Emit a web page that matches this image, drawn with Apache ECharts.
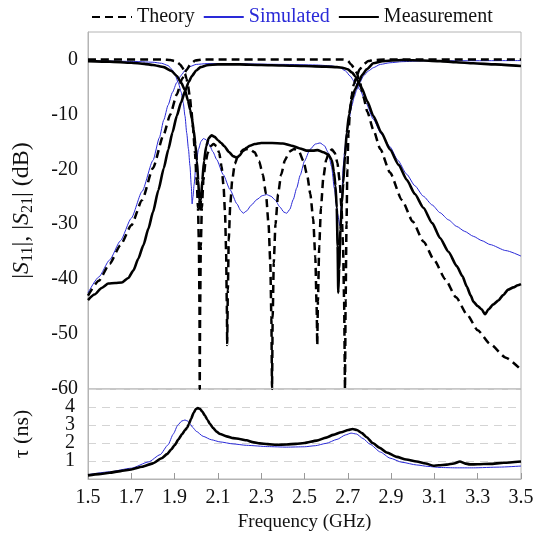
<!DOCTYPE html>
<html>
<head>
<meta charset="utf-8">
<script src="https://cdn.jsdelivr.net/npm/echarts@6/dist/echarts.min.js"></script>
<style>
  html, body { margin: 0; padding: 0; background: #fff; }
  #chart { width: 543px; height: 540px; }
</style>
</head>
<body>
<div id="chart"></div>
<script>
// frequency ticks (GHz)
var xTicks = [1.5, 1.7, 1.9, 2.1, 2.3, 2.5, 2.7, 2.9, 3.1, 3.3, 3.5];

// |S11| theory (dB)
var theoryS11 = [[1.5,0],[1.8,0],[1.85,-0.03],[1.88,-0.1],[1.9,-0.3],[1.915,-0.6],[1.925,-0.9],[1.935,-1.4],[1.942,-1.9],[1.948,-2.6],[1.955,-3.5],[1.962,-4.8],[1.971,-7.0],[1.978,-9.5],[1.985,-12.5],[1.994,-17],[2.002,-22],[2.008,-27],[2.012,-33],[2.015,-45],[2.016,-60],[2.018,-45],[2.021,-34],[2.026,-27],[2.033,-22],[2.042,-19],[2.053,-17],[2.066,-15.8],[2.08,-15.4],[2.094,-15.8],[2.106,-17],[2.117,-19.5],[2.126,-23],[2.133,-28],[2.138,-35],[2.141,-44],[2.143,-52],[2.146,-42],[2.15,-33],[2.157,-26.5],[2.166,-22],[2.178,-19],[2.195,-17.3],[2.218,-16.4],[2.245,-16.3],[2.27,-16.9],[2.29,-18.5],[2.308,-21],[2.322,-24.5],[2.334,-30],[2.342,-37],[2.347,-47],[2.35,-60],[2.353,-47],[2.358,-37],[2.366,-30],[2.378,-24.5],[2.392,-21],[2.41,-18.3],[2.43,-16.8],[2.452,-16.3],[2.475,-16.8],[2.495,-18.5],[2.512,-21],[2.527,-24.5],[2.54,-29],[2.55,-36],[2.556,-45],[2.559,-52],[2.562,-44],[2.568,-34],[2.576,-27],[2.587,-21.5],[2.6,-18.3],[2.614,-16.8],[2.627,-16.4],[2.64,-17],[2.652,-18.8],[2.662,-22],[2.671,-27],[2.678,-34],[2.683,-44],[2.687,-60],[2.69,-44],[2.694,-30],[2.698,-20],[2.703,-13.5],[2.71,-9.5],[2.718,-6.5],[2.728,-4.5],[2.741,-3.0],[2.755,-1.8],[2.772,-0.9],[2.795,-0.3],[2.82,-0.1],[2.87,0],[3.5,0]];
// |S21| theory (dB)
var theoryS21 = [[1.5,-43],[1.55,-40.3],[1.6,-37.2],[1.65,-33.8],[1.7,-30.2],[1.75,-25.6],[1.8,-19.8],[1.85,-13.6],[1.88,-10],[1.91,-6.4],[1.935,-3.5],[1.955,-1.9],[1.975,-0.8],[1.995,-0.2],[2.03,-0.02],[2.68,-0.02],[2.7,-0.25],[2.715,-0.9],[2.728,-1.5],[2.741,-2.4],[2.756,-4.2],[2.772,-6.8],[2.79,-9.5],[2.818,-12.8],[2.85,-16.3],[2.895,-20.6],[2.95,-25.6],[3.0,-29.5],[3.05,-33.2],[3.1,-36.6],[3.15,-40],[3.2,-43.3],[3.25,-46.4],[3.3,-49.3],[3.357,-51.8],[3.43,-54.3],[3.5,-56.5]];

// simulated
var simS11 = [[1.5,-0.3],[1.6,-0.3],[1.7,-0.35],[1.8,-0.5],[1.84,-0.7],[1.87,-1.1],[1.887,-1.8],[1.9,-2.6],[1.917,-4.2],[1.93,-5.9],[1.94,-7.9],[1.948,-10.3],[1.956,-13.4],[1.964,-16.3],[1.971,-19.4],[1.977,-23],[1.981,-26.3],[1.985,-25],[1.99,-22.8],[1.998,-19.5],[2.01,-16.4],[2.022,-14.9],[2.033,-14.4],[2.045,-14.6],[2.06,-15.5],[2.077,-16.8],[2.094,-18.2],[2.125,-21],[2.156,-23.7],[2.188,-26.3],[2.205,-27.5],[2.217,-28],[2.232,-27.6],[2.255,-26.5],[2.28,-25.5],[2.305,-24.8],[2.325,-24.6],[2.345,-24.9],[2.365,-25.6],[2.385,-26.8],[2.405,-27.8],[2.418,-28],[2.432,-27.3],[2.448,-25.5],[2.464,-23.4],[2.48,-21.1],[2.5,-18.5],[2.525,-16.4],[2.55,-15.4],[2.572,-15.2],[2.592,-15.7],[2.61,-17],[2.625,-19.5],[2.638,-23.5],[2.652,-28],[2.664,-30.3],[2.672,-25],[2.679,-19.4],[2.687,-16],[2.695,-13.4],[2.706,-10.8],[2.718,-8.5],[2.73,-6.8],[2.741,-5.5],[2.756,-4.2],[2.772,-3],[2.795,-2.1],[2.818,-1.5],[2.85,-0.9],[2.895,-0.6],[2.95,-0.4],[3.05,-0.25],[3.5,-0.2]];
var simS21 = [[1.5,-42.5],[1.55,-39.6],[1.6,-36.5],[1.65,-33],[1.7,-28.9],[1.75,-24],[1.8,-18.4],[1.83,-14.2],[1.85,-11],[1.87,-8.3],[1.89,-6],[1.91,-4.2],[1.93,-2.9],[1.95,-1.9],[1.97,-1.3],[2.0,-0.9],[2.05,-0.75],[2.2,-0.8],[2.4,-0.9],[2.55,-1.0],[2.62,-1.15],[2.66,-1.4],[2.69,-2.1],[2.71,-3],[2.735,-4.3],[2.756,-5.5],[2.785,-8],[2.818,-10.9],[2.855,-13.6],[2.895,-15.9],[2.93,-18.3],[2.972,-20.9],[3.01,-23],[3.049,-24.9],[3.09,-26.5],[3.126,-27.9],[3.165,-29.2],[3.203,-30.4],[3.24,-31.3],[3.28,-32.2],[3.32,-33],[3.357,-33.7],[3.43,-34.8],[3.5,-35.8]];

// measured
var measS11 = [[1.5,-0.3],[1.6,-0.4],[1.7,-0.6],[1.76,-0.8],[1.8,-1.0],[1.85,-1.4],[1.886,-2.1],[1.91,-3.0],[1.93,-4.2],[1.948,-5.6],[1.962,-7.5],[1.972,-9.2],[1.98,-10.8],[1.988,-12.8],[1.996,-15.5],[2.003,-18.5],[2.009,-22],[2.014,-25.5],[2.018,-27.3],[2.022,-25.5],[2.028,-22],[2.036,-18.5],[2.046,-15.8],[2.058,-14.3],[2.071,-13.8],[2.085,-14.1],[2.1,-14.7],[2.115,-15.2],[2.13,-15.8],[2.15,-16.8],[2.17,-17.6],[2.187,-17.9],[2.2,-17.5],[2.215,-16.7],[2.232,-16.1],[2.248,-15.7],[2.27,-15.4],[2.3,-15.2],[2.35,-15.2],[2.4,-15.3],[2.44,-15.7],[2.479,-16.2],[2.51,-16.6],[2.54,-16.6],[2.56,-16.5],[2.587,-16.9],[2.61,-17.3],[2.626,-18.3],[2.636,-20.5],[2.643,-23],[2.649,-27],[2.653,-34],[2.656,-42.5],[2.66,-38],[2.666,-31],[2.673,-26],[2.679,-22.5],[2.687,-17.5],[2.695,-13.4],[2.706,-10],[2.718,-7.3],[2.733,-5.5],[2.749,-4.2],[2.767,-2.8],[2.787,-1.8],[2.818,-0.7],[2.86,-0.3],[2.95,-0.1],[3.05,-0.2],[3.126,-0.3],[3.2,-0.5],[3.28,-0.7],[3.38,-0.9],[3.5,-1.2]];
var measS21 = [[1.5,-43.8],[1.53,-42.8],[1.563,-41.6],[1.594,-40.8],[1.625,-40.7],[1.656,-40.6],[1.686,-39.8],[1.71,-38.4],[1.732,-36.3],[1.756,-33.8],[1.779,-30.8],[1.8,-27.8],[1.825,-23.8],[1.85,-19.8],[1.871,-16.4],[1.89,-13.3],[1.91,-10.3],[1.93,-7.8],[1.948,-5.8],[1.965,-4.1],[1.98,-3.0],[2.0,-2.0],[2.02,-1.4],[2.05,-1.05],[2.1,-0.9],[2.2,-0.9],[2.3,-1.0],[2.4,-1.1],[2.5,-1.2],[2.6,-1.3],[2.65,-1.4],[2.68,-1.55],[2.7,-1.8],[2.72,-2.4],[2.735,-3.1],[2.749,-4.1],[2.764,-5.2],[2.79,-7.6],[2.818,-10.3],[2.855,-13.3],[2.895,-16.4],[2.935,-19.2],[2.972,-21.9],[3.01,-24.5],[3.049,-27],[3.09,-29.8],[3.126,-32.5],[3.165,-35],[3.203,-37.6],[3.23,-39.5],[3.249,-41.3],[3.268,-43],[3.28,-44.1],[3.3,-44.9],[3.318,-45.5],[3.334,-46.4],[3.35,-45.5],[3.372,-44.6],[3.395,-43.9],[3.418,-42.9],[3.441,-41.9],[3.465,-41.5],[3.485,-41.1],[3.5,-40.9]];

// group delay (ns)
var simTau = [[1.5,0.24],[1.6,0.4],[1.7,0.6],[1.78,0.95],[1.833,1.35],[1.87,1.9],[1.894,2.5],[1.915,3.0],[1.933,3.22],[1.948,3.28],[1.96,3.22],[1.972,3.05],[1.985,2.85],[2.0,2.65],[2.032,2.37],[2.07,2.18],[2.11,2.06],[2.17,1.95],[2.233,1.87],[2.33,1.8],[2.418,1.77],[2.5,1.79],[2.55,1.85],[2.6,1.98],[2.65,2.2],[2.69,2.45],[2.715,2.55],[2.74,2.5],[2.77,2.25],[2.803,1.93],[2.85,1.5],[2.895,1.16],[2.95,0.93],[3.018,0.78],[3.07,0.7],[3.126,0.64],[3.2,0.62],[3.28,0.62],[3.4,0.66],[3.5,0.72]];
var measTau = [[1.5,0.2],[1.55,0.27],[1.6,0.35],[1.65,0.44],[1.7,0.53],[1.75,0.68],[1.8,0.87],[1.84,1.15],[1.865,1.38],[1.885,1.65],[1.9,1.88],[1.918,2.2],[1.935,2.5],[1.948,2.72],[1.958,2.85],[1.966,3.05],[1.976,3.35],[1.988,3.68],[1.998,3.88],[2.007,3.94],[2.017,3.9],[2.028,3.75],[2.04,3.52],[2.052,3.28],[2.063,3.07],[2.078,2.83],[2.095,2.62],[2.11,2.5],[2.14,2.37],[2.171,2.27],[2.2,2.22],[2.233,2.15],[2.26,2.05],[2.294,1.98],[2.33,1.94],[2.37,1.9],[2.418,1.92],[2.46,1.95],[2.5,2.0],[2.556,2.13],[2.6,2.3],[2.633,2.45],[2.67,2.6],[2.702,2.72],[2.722,2.78],[2.742,2.72],[2.765,2.55],[2.787,2.32],[2.815,2.0],[2.848,1.73],[2.88,1.47],[2.926,1.23],[2.97,1.08],[3.018,0.97],[3.06,0.86],[3.095,0.74],[3.12,0.76],[3.157,0.8],[3.19,0.86],[3.218,0.97],[3.24,0.87],[3.264,0.81],[3.3,0.82],[3.357,0.84],[3.42,0.9],[3.5,0.97]];

var FONT = 'Liberation Serif';
var BLUE = '#2a2ad8';
var GRAYLINE = '#b4b4b4';

var chart = echarts.init(document.getElementById('chart'));

function lineSeries(name, data, grid, style){
    return {
        name: name,
        type: 'line',
        xAxisIndex: grid,
        yAxisIndex: grid,
        data: data,
        symbol: 'none',
        smooth: 0.2,
        smoothMonotone: 'x',
        itemStyle: { color: style.color },
        lineStyle: style,
        emphasis: { disabled: true }
    };
}

var theoryStyle = { color: '#000', width: 2.5, type: [8, 5] };
var simStyle = { color: BLUE, width: 1 };
var measStyle = { color: '#000', width: 2.6 };

var option = {
    animation: false,
    backgroundColor: '#fff',
    textStyle: { fontFamily: FONT },
    legend: {
        top: 2,
        left: 86,
        itemWidth: 40,
        itemHeight: 14,
        itemGap: 8,
        itemStyle: { opacity: 0 },
        textStyle: { fontFamily: FONT, fontSize: 20, color: '#111' },
        data: [
            { name: 'Theory' },
            { name: 'Simulated', textStyle: { color: BLUE } },
            { name: 'Measurement' }
        ]
    },
    grid: [
        { left: 88, right: 22, top: 32, height: 357, show: true, borderColor: GRAYLINE, borderWidth: 1 },
        { left: 88, right: 22, top: 389, height: 90, show: true, borderColor: GRAYLINE, borderWidth: 1 }
    ],
    xAxis: [
        {
            gridIndex: 0, type: 'value', min: 1.5, max: 3.5,
            axisLine: { show: false }, axisTick: { show: false },
            axisLabel: { show: false }, splitLine: { show: false }
        },
        {
            gridIndex: 1, type: 'value', min: 1.5, max: 3.5,
            name: 'Frequency (GHz)', nameLocation: 'middle', nameGap: 34,
            nameTextStyle: { fontFamily: FONT, fontSize: 19, color: '#111' },
            axisLine: { show: true, lineStyle: { color: GRAYLINE } },
            axisTick: { show: true, inside: true, length: 6, customValues: xTicks, lineStyle: { color: '#999' } },
            axisLabel: {
                customValues: xTicks, margin: 9,
                fontFamily: FONT, fontSize: 20, color: '#111',
                formatter: function(v){ return v.toFixed(1); }
            },
            splitLine: { show: false }
        }
    ],
    yAxis: [
        {
            gridIndex: 0, type: 'value', min: -60, max: 5, interval: 10,
            name: '|{i|S}{sub|11}|, |{i|S}{sub|21}| (dB)',
            nameLocation: 'middle', nameGap: 52, nameRotate: 90,
            nameTextStyle: {
                fontFamily: FONT, fontSize: 24, color: '#111', lineHeight: 28,
                rich: {
                    i: { fontFamily: FONT, fontSize: 24, fontStyle: 'italic', color: '#111', lineHeight: 28 },
                    sub: { fontFamily: FONT, fontSize: 16, color: '#111', lineHeight: 17, verticalAlign: 'bottom' }
                }
            },
            axisLine: { show: true, lineStyle: { color: GRAYLINE } },
            axisTick: { show: false },
            axisLabel: {
                margin: 10, fontFamily: FONT, fontSize: 20, color: '#111',
                formatter: function(v){ return v > 0 ? '' : String(v); }
            },
            splitLine: { show: false }
        },
        {
            gridIndex: 1, type: 'value', min: 0, max: 5, interval: 1,
            name: 'τ (ns)', nameLocation: 'middle', nameGap: 55, nameRotate: 90,
            nameTextStyle: { fontFamily: FONT, fontSize: 22, color: '#111' },
            axisLine: { show: true, lineStyle: { color: GRAYLINE } },
            axisTick: { show: false },
            axisLabel: {
                margin: 13, fontFamily: FONT, fontSize: 20, color: '#111',
                formatter: function(v){ return (v < 1 || v > 4) ? '' : String(v); }
            },
            splitLine: { show: true, lineStyle: { color: '#d4d4d4', type: [8, 6] } }
        }
    ],
    series: [
        lineSeries('Simulated', simS21, 0, simStyle),
        lineSeries('Simulated', simS11, 0, simStyle),
        lineSeries('Measurement', measS21, 0, measStyle),
        lineSeries('Measurement', measS11, 0, measStyle),
        lineSeries('Theory', theoryS21, 0, theoryStyle),
        lineSeries('Theory', theoryS11, 0, theoryStyle),
        lineSeries('Simulated', simTau, 1, simStyle),
        lineSeries('Measurement', measTau, 1, measStyle)
    ]
};

chart.setOption(option);
</script>
</body>
</html>
